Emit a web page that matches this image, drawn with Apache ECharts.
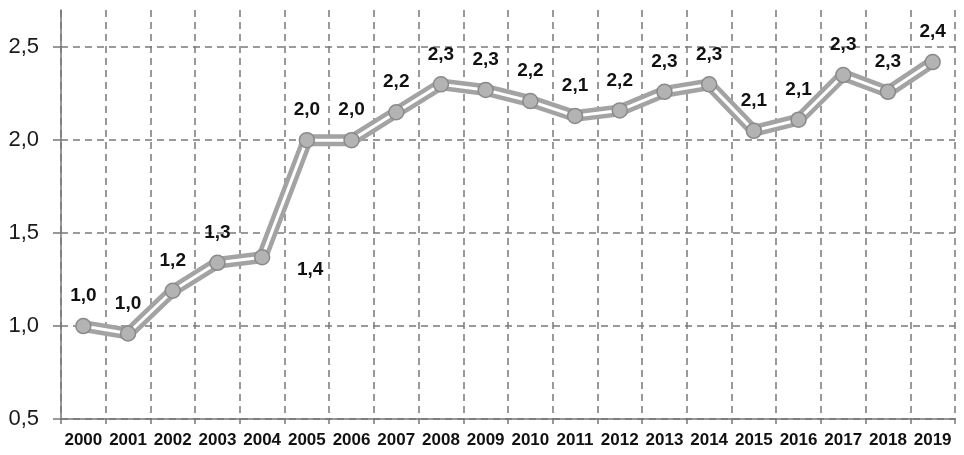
<!DOCTYPE html>
<html><head><meta charset="utf-8">
<script src="https://cdn.jsdelivr.net/npm/echarts@6/dist/echarts.min.js"></script>
<style>html,body{margin:0;padding:0;background:#fff}#c{width:964px;height:455px}</style>
</head><body><div id="c"></div>
<script>
const years = ['2000','2001','2002','2003','2004','2005','2006','2007','2008','2009','2010','2011','2012','2013','2014','2015','2016','2017','2018','2019'];
const values = [1.0,0.96,1.19,1.34,1.37,2.0,2.0,2.15,2.3,2.27,2.21,2.13,2.16,2.26,2.3,2.05,2.11,2.35,2.26,2.42];
const valueLabels = ['1,0','1,0','1,2','1,3','1,4','2,0','2,0','2,2','2,3','2,3','2,2','2,1','2,2','2,3','2,3','2,1','2,1','2,3','2,3','2,4'];
const yTicks = [0.5,1.0,1.5,2.0,2.5];

const chart = echarts.init(document.getElementById('c'));
const boldFont = '"Liberation Sans Narrow","Arial Narrow","Liberation Sans",Arial,sans-serif';
const labelFont = {fontFamily:boldFont, fontWeight:'bold', fontSize:19, color:'#111'};
const topData = values.map((v,i)=>{
  const lab = i===4 ? {position:'inside', offset:[48,13]} : {position:'inside', offset:[0,-30]};
  return {value:v, label:lab};
});
chart.setOption({
  animation:false,
  grid:{left:61,right:9,top:10,bottom:36},
  xAxis:{type:'category',data:years,boundaryGap:true,
    axisLine:{lineStyle:{color:'#777',width:1.5}},
    axisTick:{show:true,interval:0,length:5,lineStyle:{color:'#777',width:1.5}},
    axisLabel:{interval:0,fontFamily:boldFont,fontWeight:'bold',fontSize:17,color:'#111',margin:13},
    splitLine:{show:true,interval:0,lineStyle:{color:'#7a7a7a',type:[7,5],width:1.5}}
  },
  yAxis:{type:'value',min:0.5,max:2.7,interval:0.5,
    axisLine:{show:true,lineStyle:{color:'#777',width:1.5}},
    axisTick:{show:true,length:8,lineStyle:{color:'#777',width:1.5}},
    axisLabel:{fontFamily:'"Liberation Sans",Arial,sans-serif',fontSize:22,color:'#1a1a1a',margin:22,showMaxLabel:false,
      formatter:v=>{const t=yTicks.find(x=>Math.abs(x-v)<1e-6);return t===undefined?'':t.toFixed(1).replace('.',',');}},
    splitLine:{show:true,showMaxLine:false,lineStyle:{color:'#7a7a7a',type:[7,5],width:1.5}}
  },
  series:[
    {type:'line',data:values,symbol:'none',z:2,
      lineStyle:{color:'#a3a3a3',width:12,join:'miter'}},
    {type:'line',data:topData,symbol:'circle',symbolSize:15,z:3,
      lineStyle:{color:'#ffffff',width:3},
      itemStyle:{color:'#b3b3b3',borderColor:'#8a8a8a',borderWidth:1.5},
      label:Object.assign({show:true,formatter:p=>valueLabels[p.dataIndex]},labelFont)}
  ]
});
</script></body></html>
